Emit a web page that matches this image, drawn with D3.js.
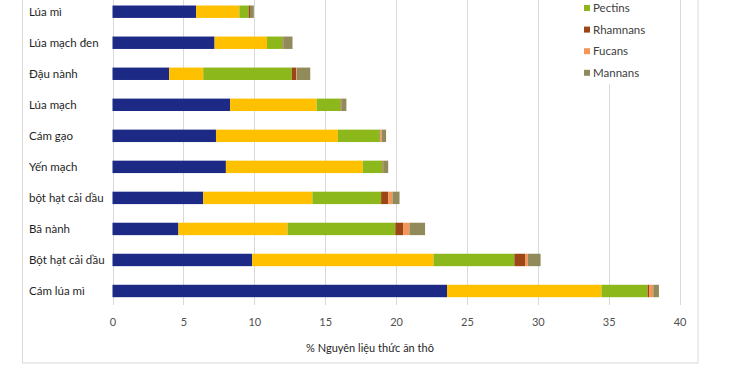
<!DOCTYPE html>
<html>
<head>
<meta charset="utf-8">
<script src="https://cdn.jsdelivr.net/npm/d3@7"></script>
<style>
  body { margin: 0; background: #fff; }
  text { font-family: Lato, "Open Sans", sans-serif; }
</style>
</head>
<body>
<div id="bar_graph"></div>
<script>
// Feed ingredients, top to bottom.
const categories = ['Lúa mì', 'Lúa mạch đen', 'Đậu nành', 'Lúa mạch', 'Cám gạo',
                    'Yến mạch', 'bột hạt cải dầu', 'Bã nành', 'Bột hạt cải dầu', 'Cám lúa mì'];

// The first two legend entries are cut off above the frame.
const seriesNames = ['Cellulose', 'Arabinoxylans', 'Pectins', 'Rhamnans', 'Fucans', 'Mannans'];

const cellulose     = [5.9, 7.2, 4.0, 8.3, 7.3, 8.0, 6.4, 4.65, 9.85, 23.6];
const arabinoxylans = [3.05, 3.7, 2.4, 6.1, 8.6, 9.65, 7.7, 7.7, 12.8, 10.9];
const pectins       = [0.65, 1.1, 6.25, 1.7, 2.95, 1.4, 4.85, 7.6, 5.7, 3.25];
const rhamnans      = [0.1, 0.05, 0.3, 0.05, 0.05, 0.05, 0.5, 0.55, 0.75, 0.1];
const fucans        = [0, 0, 0.05, 0, 0.1, 0, 0.3, 0.45, 0.2, 0.3];
const mannans       = [0.27, 0.65, 0.95, 0.35, 0.3, 0.35, 0.5, 1.1, 0.9, 0.4];

const xTicks = [0, 5, 10, 15, 20, 25, 30, 35, 40];
const xTitle = '% Nguyên liệu thức ăn thô';

const colors = ['#1c2a86', '#ffc000', '#8db81c', '#9c4516', '#f4955a', '#918b5c'];

function init() {
  let width = 750,
      height = 375;

  let svg = d3.select('#bar_graph')
              .append('svg')
              .attr('width', width)
              .attr('height', height);

  let values = [cellulose, arabinoxylans, pectins, rhamnans, fucans, mannans];

  // Build one row per ingredient for the stack layout.
  let dataset = categories.map((name, i) => {
    let row = { name: name };
    seriesNames.forEach((s, j) => {
      row[s] = values[j][i];
    });
    return row;
  });

  let stacked = d3.stack()
                  .keys(seriesNames)(dataset);

  let x = d3.scaleLinear()
            .domain([0, 40])
            .range([112.5, 679.5]);

  let y = d3.scaleBand()
            .domain(categories)
            .range([-3.8, 306.5])
            .paddingInner(0.6)
            .paddingOuter(0.3);

  let color = d3.scaleOrdinal()
                .domain(seriesNames)
                .range(colors);

  // Chart frame.
  svg.append('rect')
     .attr('x', 22.5)
     .attr('y', -5)
     .attr('width', 675.5)
     .attr('height', 368)
     .attr('fill', 'none')
     .attr('stroke', '#d9d9d9');

  // Vertical gridlines.
  svg.append('g')
     .selectAll('line')
     .data(xTicks)
     .enter()
     .append('line')
     .attr('x1', (d) => Math.round(x(d)) + 0.5)
     .attr('x2', (d) => Math.round(x(d)) + 0.5)
     .attr('y1', -5)
     .attr('y2', 305)
     .attr('stroke', '#d9d9d9');

  // Initialize x-axis labels.
  svg.append('g')
     .attr('transform', 'translate(0, 305)')
     .call(d3.axisBottom(x)
             .tickValues(xTicks)
             .tickSize(0)
             .tickPadding(13))
     .call((g) => g.select('.domain').remove())
     .selectAll('text')
     .attr('font-size', 11)
     .attr('font-family', 'Lato, sans-serif')
     .attr('fill', '#505050');

  // Category labels, left aligned.
  svg.append('g')
     .selectAll('text')
     .data(categories)
     .enter()
     .append('text')
     .attr('x', 29)
     .attr('y', (d) => y(d) + y.bandwidth() / 2)
     .attr('dy', '0.35em')
     .attr('font-size', 11.5)
     .attr('fill', '#1f1f1f')
     .text((d) => d);

  // Stacked bars.
  svg.append('g')
     .selectAll('g')
     .data(stacked)
     .enter()
     .append('g')
     .attr('fill', (d) => color(d.key))
     .selectAll('rect')
     .data((d) => d)
     .enter()
     .append('rect')
     .attr('x', (d) => x(d[0]))
     .attr('y', (d) => y(d.data.name))
     .attr('width', (d) => x(d[1]) - x(d[0]))
     .attr('height', y.bandwidth());

  // Legend box (covers the gridline behind it).
  svg.append('rect')
     .attr('x', 569)
     .attr('y', -5)
     .attr('width', 80)
     .attr('height', 89)
     .attr('fill', '#fff');

  let legend = svg.append('g')
                  .selectAll('g')
                  .data(seriesNames.slice(2))
                  .enter()
                  .append('g')
                  .attr('transform', (d, i) => `translate(584, ${8 + i * 21.6})`);

  legend.append('rect')
        .attr('x', 0)
        .attr('y', -3)
        .attr('width', 6)
        .attr('height', 6)
        .attr('fill', (d) => color(d));

  legend.append('text')
        .attr('x', 9)
        .attr('dy', '0.35em')
        .attr('font-size', 11.5)
        .attr('fill', '#404040')
        .text((d) => d);

  svg.append('text')
     .attr('x', 370)
     .attr('y', 348)
     .attr('dy', '0.35em')
     .attr('text-anchor', 'middle')
     .attr('font-size', 11)
     .attr('fill', '#262626')
     .text(xTitle);
}

init();
</script>
</body>
</html>
